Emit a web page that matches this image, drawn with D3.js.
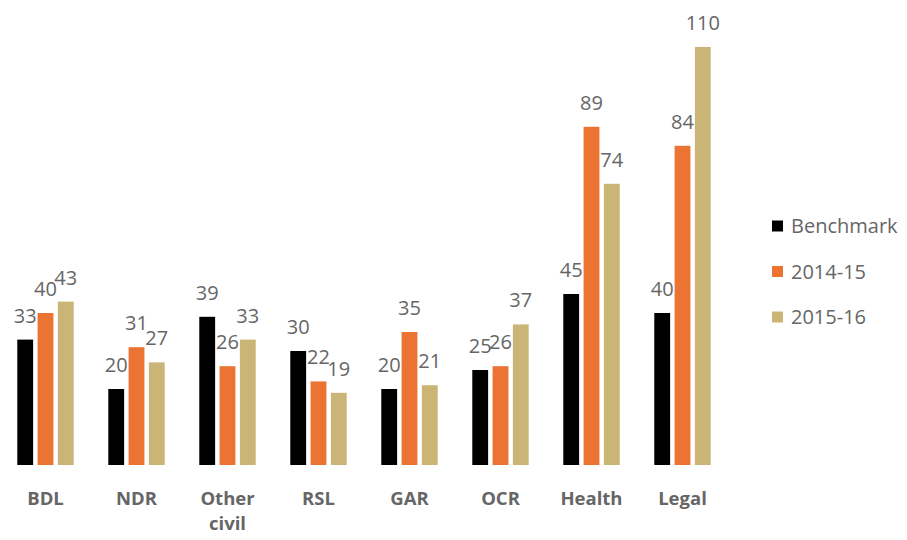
<!DOCTYPE html>
<html><head><meta charset="utf-8">
<script src="https://cdn.jsdelivr.net/npm/d3@7"></script>
<style>body{margin:0;background:#fff}svg{display:block}</style>
</head><body>
<script>
const categories = ["BDL","NDR","Other civil","RSL","GAR","OCR","Health","Legal"];
const seriesNames = ["Benchmark","2014-15","2015-16"];
const benchmark = [33,20,39,30,20,25,45,40];
const y2014 = [40,31,26,22,35,26,89,84];
const y2015 = [43,27,33,19,21,37,74,110];
const colors = ["#000000","#EC7432","#CBB576"];
const seriesValues = [benchmark,y2014,y2015];

const W=907,H=540;
const svg=d3.select("body").append("svg").attr("width",W).attr("height",H);
const font="'Open Sans', Lato, sans-serif";
const baseY=465;
const x0=d3.scaleBand().domain(categories).range([0,728]).paddingInner(0.38).paddingOuter(0.19);
const x1=d3.scaleBand().domain(seriesNames).range([0,x0.bandwidth()]).paddingInner(0.22);
const y=d3.scaleLinear().domain([0,110]).range([baseY,47]);

const g=svg.append("g");
categories.forEach((c,i)=>{
  const gg=g.append("g").attr("transform",`translate(${x0(c)},0)`);
  seriesNames.forEach((s,j)=>{
    const v=seriesValues[j][i];
    gg.append("rect").attr("x",x1(s)).attr("y",y(v)).attr("width",x1.bandwidth()).attr("height",baseY-y(v)).attr("fill",colors[j]);
  });
  seriesNames.forEach((s,j)=>{
    const v=seriesValues[j][i];
    gg.append("text").attr("x",x1(s)+x1.bandwidth()/2).attr("y",y(v)-17).attr("text-anchor","middle")
      .attr("font-family",font).attr("font-size",20).attr("fill","#666").text(v);
  });
  const words=c.split(" ");
  words.forEach((w,k)=>{
    g.append("text").attr("x",x0(c)+x0.bandwidth()/2).attr("y",505+k*25).attr("text-anchor","middle")
      .attr("font-family",font).attr("font-weight","bold").attr("font-size",18.5).attr("fill","#666").text(w);
  });
});

const lg=svg.append("g");
seriesNames.forEach((s,j)=>{
  const yy=226+j*45.5;
  lg.append("rect").attr("x",772).attr("y",yy-5.5).attr("width",11).attr("height",11).attr("fill",colors[j]);
  lg.append("text").attr("x",791).attr("y",yy+7).attr("font-family",font).attr("font-size",20).attr("fill","#666").text(s);
});
</script>
</body></html>
